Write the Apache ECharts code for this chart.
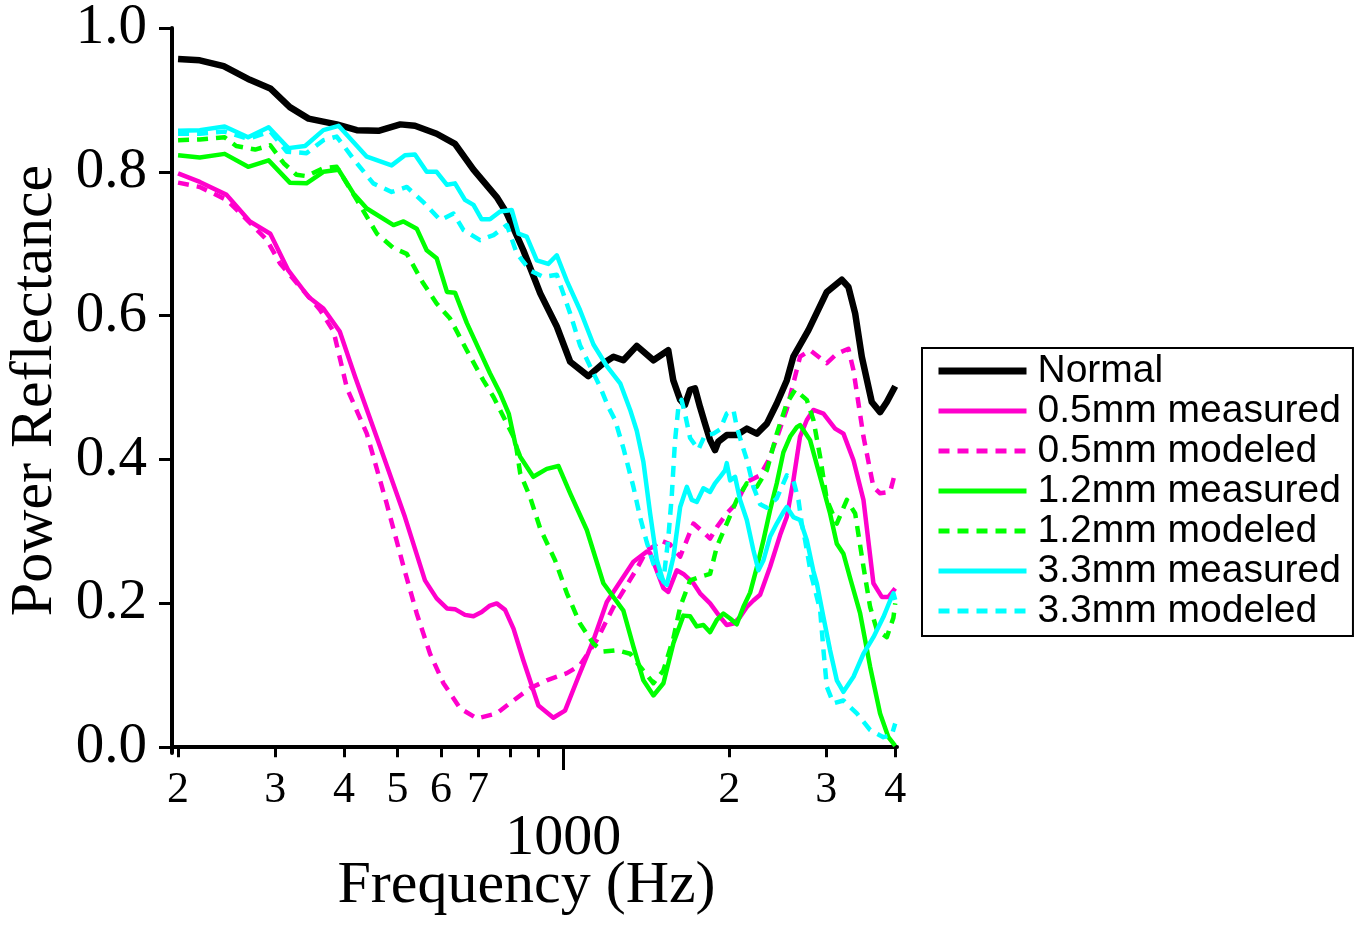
<!DOCTYPE html>
<html>
<head>
<meta charset="utf-8">
<script src="https://cdn.jsdelivr.net/npm/echarts@6/dist/echarts.min.js"></script>
<style>
html,body{margin:0;padding:0;background:#ffffff;}
#chart{width:1362px;height:925px;}
</style>
</head>
<body>
<div id="chart"></div>
<script>
// ---- axis ticks / labels ----
const xTickValues = [200, 300, 400, 500, 600, 700, 800, 900, 1000, 2000, 3000, 4000];
const xLabelValues = [200, 300, 400, 500, 600, 700, 2000, 3000, 4000];
const xMajorValues = [1000];
const yTickValues = [0, 0.2, 0.4, 0.6, 0.8, 1.0];

// ---- series names ----
const seriesNames = ['Normal', '0.5mm measured', '0.5mm modeled', '1.2mm measured', '1.2mm modeled', '3.3mm measured', '3.3mm modeled'];

// ---- data: [frequency Hz, power reflectance] ----
const normal = [[200,0.957],[219,0.955],[242,0.947],[270,0.928],[294,0.916],[319,0.890],[345,0.874],[388,0.866],[422,0.858],[462,0.857],[506,0.866],[538,0.864],[589,0.853],[636,0.839],[687,0.803],[757,0.765],[790,0.742],[846,0.691],[908,0.631],[973,0.585],[1029,0.536],[1110,0.516],[1182,0.534],[1233,0.543],[1285,0.538],[1359,0.558],[1457,0.538],[1550,0.552],[1583,0.510],[1629,0.483],[1662,0.476],[1698,0.497],[1733,0.499],[1770,0.473],[1807,0.450],[1846,0.427],[1884,0.413],[1911,0.425],[1979,0.434],[2064,0.434],[2152,0.443],[2244,0.436],[2340,0.450],[2439,0.478],[2543,0.510],[2614,0.543],[2784,0.580],[3006,0.633],[3200,0.650],[3290,0.640],[3384,0.603],[3479,0.543],[3627,0.480],[3755,0.466],[3862,0.480],[4000,0.502]];

const mm05Measured = [[200,0.798],[219,0.786],[245,0.768],[270,0.731],[294,0.714],[317,0.663],[345,0.626],[367,0.610],[393,0.578],[419,0.515],[465,0.418],[516,0.320],[561,0.232],[589,0.207],[615,0.193],[636,0.192],[663,0.184],[687,0.182],[711,0.188],[736,0.197],[757,0.200],[784,0.191],[812,0.165],[846,0.121],[901,0.058],[959,0.041],[1007,0.051],[1065,0.098],[1134,0.149],[1199,0.202],[1268,0.230],[1340,0.258],[1417,0.272],[1437,0.270],[1478,0.245],[1519,0.221],[1550,0.216],[1606,0.246],[1651,0.241],[1722,0.228],[1770,0.214],[1846,0.200],[1925,0.181],[1979,0.170],[2035,0.172],[2092,0.181],[2152,0.195],[2212,0.204],[2275,0.212],[2372,0.251],[2473,0.295],[2543,0.320],[2614,0.371],[2688,0.432],[2765,0.455],[2842,0.469],[2964,0.464],[3112,0.443],[3222,0.436],[3360,0.399],[3503,0.344],[3652,0.228],[3782,0.209],[3888,0.209],[4000,0.221]];

const mm05Modeled = [[200,0.785],[219,0.779],[245,0.761],[267,0.733],[290,0.705],[306,0.673],[333,0.640],[362,0.608],[383,0.578],[405,0.499],[440,0.436],[478,0.339],[513,0.251],[542,0.186],[573,0.130],[606,0.089],[650,0.054],[697,0.040],[757,0.047],[812,0.065],[870,0.082],[933,0.093],[1015,0.103],[1072,0.114],[1150,0.149],[1233,0.195],[1359,0.248],[1417,0.274],[1457,0.279],[1498,0.288],[1562,0.282],[1629,0.265],[1675,0.288],[1722,0.311],[1795,0.299],[1846,0.290],[1899,0.306],[1979,0.325],[2064,0.340],[2152,0.369],[2275,0.378],[2352,0.398],[2439,0.430],[2543,0.470],[2614,0.506],[2688,0.543],[2803,0.552],[3006,0.534],[3134,0.547],[3290,0.554],[3360,0.524],[3503,0.432],[3652,0.362],[3755,0.353],[3916,0.355],[4000,0.382]];

const mm12Measured = [[200,0.823],[219,0.820],[243,0.825],[268,0.807],[292,0.816],[319,0.785],[342,0.784],[367,0.800],[391,0.803],[416,0.770],[440,0.749],[492,0.726],[513,0.731],[542,0.721],[565,0.691],[589,0.680],[615,0.633],[636,0.632],[668,0.590],[706,0.550],[736,0.520],[768,0.492],[796,0.464],[818,0.422],[835,0.404],[882,0.376],[933,0.387],[980,0.391],[1029,0.353],[1103,0.302],[1182,0.228],[1285,0.190],[1340,0.140],[1397,0.093],[1457,0.072],[1519,0.089],[1584,0.145],[1651,0.183],[1698,0.182],[1746,0.168],[1795,0.170],[1846,0.160],[1899,0.177],[1951,0.186],[2007,0.179],[2064,0.171],[2121,0.195],[2182,0.215],[2244,0.250],[2307,0.288],[2372,0.330],[2439,0.367],[2507,0.410],[2579,0.432],[2652,0.445],[2688,0.448],[2803,0.427],[2923,0.376],[3047,0.325],[3134,0.283],[3222,0.269],[3314,0.235],[3455,0.186],[3602,0.112],[3755,0.047],[3888,0.014],[4000,0.002]];

const mm12Modeled = [[200,0.844],[219,0.845],[243,0.848],[255,0.836],[276,0.831],[294,0.837],[311,0.812],[328,0.796],[342,0.794],[367,0.805],[388,0.807],[422,0.761],[459,0.714],[492,0.694],[520,0.686],[557,0.645],[589,0.617],[623,0.596],[668,0.552],[716,0.510],[747,0.487],[818,0.427],[835,0.381],[870,0.348],[908,0.304],[966,0.260],[1015,0.214],[1072,0.172],[1134,0.144],[1182,0.133],[1250,0.135],[1322,0.130],[1378,0.112],[1457,0.089],[1519,0.107],[1584,0.152],[1629,0.195],[1698,0.232],[1770,0.237],[1846,0.241],[1899,0.279],[1979,0.311],[2064,0.344],[2152,0.367],[2244,0.362],[2340,0.385],[2439,0.436],[2543,0.478],[2633,0.497],[2765,0.483],[2842,0.455],[2923,0.404],[3006,0.344],[3134,0.311],[3268,0.344],[3384,0.325],[3503,0.251],[3602,0.195],[3705,0.163],[3862,0.153],[3970,0.180],[4000,0.200]];

const mm33Measured = [[200,0.857],[219,0.858],[243,0.863],[268,0.848],[292,0.862],[317,0.833],[340,0.836],[367,0.858],[391,0.864],[440,0.821],[488,0.809],[516,0.823],[538,0.824],[565,0.800],[589,0.800],[615,0.782],[636,0.784],[663,0.761],[687,0.754],[711,0.734],[736,0.734],[768,0.745],[806,0.747],[829,0.714],[858,0.710],[895,0.677],[939,0.672],[973,0.684],[1015,0.648],[1072,0.608],[1134,0.560],[1199,0.530],[1268,0.506],[1322,0.469],[1359,0.440],[1397,0.397],[1437,0.325],[1478,0.260],[1519,0.230],[1541,0.226],[1584,0.265],[1629,0.334],[1675,0.362],[1710,0.344],[1746,0.341],[1795,0.360],[1846,0.355],[1884,0.367],[1925,0.376],[1965,0.385],[1979,0.395],[2007,0.371],[2049,0.376],[2092,0.344],[2152,0.316],[2212,0.274],[2259,0.246],[2307,0.260],[2372,0.293],[2439,0.311],[2507,0.327],[2543,0.334],[2614,0.320],[2688,0.316],[2765,0.288],[2842,0.245],[2883,0.228],[2964,0.181],[3047,0.135],[3134,0.093],[3222,0.077],[3360,0.098],[3503,0.130],[3652,0.153],[3807,0.181],[3916,0.204],[3970,0.214],[4000,0.205]];

const mm33Modeled = [[200,0.853],[219,0.853],[243,0.856],[268,0.846],[294,0.856],[315,0.828],[342,0.826],[367,0.844],[388,0.849],[422,0.812],[452,0.784],[488,0.772],[520,0.779],[557,0.758],[598,0.733],[632,0.742],[659,0.719],[706,0.705],[747,0.712],[790,0.726],[823,0.687],[870,0.663],[920,0.654],[973,0.657],[1029,0.603],[1072,0.559],[1126,0.525],[1166,0.501],[1207,0.473],[1241,0.455],[1285,0.416],[1340,0.362],[1378,0.320],[1417,0.285],[1457,0.255],[1498,0.236],[1519,0.232],[1550,0.290],[1573,0.350],[1594,0.425],[1617,0.473],[1638,0.483],[1662,0.464],[1698,0.430],[1758,0.414],[1807,0.434],[1872,0.436],[1925,0.442],[1979,0.464],[2035,0.469],[2064,0.445],[2107,0.422],[2152,0.400],[2212,0.362],[2275,0.338],[2340,0.333],[2439,0.346],[2543,0.378],[2614,0.371],[2670,0.344],[2707,0.311],[2745,0.288],[2815,0.240],[2923,0.191],[2964,0.135],[3006,0.084],[3090,0.061],[3222,0.065],[3408,0.047],[3602,0.024],[3807,0.014],[3943,0.017],[4000,0.033]];

const seriesData = [normal, mm05Measured, mm05Modeled, mm12Measured, mm12Modeled, mm33Measured, mm33Modeled];
const seriesColors = ['#000000', '#ff00cc', '#ff00cc', '#00ff00', '#00ff00', '#00ffff', '#00ffff'];
const seriesWidths = [6.5, 4.5, 4.5, 4.5, 4.5, 4.5, 4.5];
const seriesDashed = [false, false, true, false, true, false, true];

const SERIF = '"Liberation Serif", "Times New Roman", Times, serif';
const SANS = '"Liberation Sans", Arial, Helvetica, sans-serif';
const DASH = [11, 8];

function tickLabel(v) {
  if (v >= 1000) return String(Math.round(v / 1000));
  return String(Math.round(v / 100));
}

const chart = echarts.init(document.getElementById('chart'), null, { renderer: 'canvas' });

const option = {
  animation: false,
  backgroundColor: '#ffffff',
  grid: {
    left: 172, right: 465, top: 28, bottom: 172,
    containLabel: false,
    outerBoundsMode: 'none'
  },
  xAxis: [
    {
      type: 'log', logBase: 10, min: 195, max: 4030,
      position: 'bottom',
      axisLine: { show: true, lineStyle: { color: '#000', width: 4 } },
      axisTick: { show: true, inside: false, length: 10, customValues: xTickValues, lineStyle: { color: '#000', width: 3 } },
      axisLabel: {
        show: true, customValues: xLabelValues, formatter: tickLabel,
        fontFamily: SERIF, fontSize: 44, color: '#000', margin: 15
      },
      splitLine: { show: false },
      minorTick: { show: false },
      name: 'Frequency (Hz)',
      nameLocation: 'middle',
      nameGap: 103,
      nameTextStyle: { fontFamily: SERIF, fontSize: 60, color: '#000', padding: [0, 16, 0, 0] }
    },
    {
      type: 'log', logBase: 10, min: 195, max: 4030,
      position: 'bottom',
      axisLine: { show: false },
      axisTick: { show: true, inside: false, length: 17, customValues: xMajorValues, lineStyle: { color: '#000', width: 3 } },
      axisLabel: {
        show: true, customValues: xMajorValues, formatter: function (v) { return String(Math.round(v)); },
        fontFamily: SERIF, fontSize: 58, color: '#000', margin: 57
      },
      splitLine: { show: false }
    }
  ],
  yAxis: {
    type: 'value', min: -0.008, max: 1.0,
    axisLine: { show: true, lineStyle: { color: '#000', width: 4 } },
    axisTick: { show: true, inside: false, length: 13, customValues: yTickValues, lineStyle: { color: '#000', width: 3 } },
    axisLabel: {
      show: true, customValues: yTickValues,
      formatter: function (v) { return Number(v).toFixed(1); },
      fontFamily: SERIF, fontSize: 57, color: '#000', margin: 25,
      padding: [0, 0, 8, 0]
    },
    splitLine: { show: false },
    name: 'Power Reflectance',
    nameLocation: 'middle',
    nameGap: 107,
    nameTextStyle: { fontFamily: SERIF, fontSize: 60, color: '#000' }
  },
  legend: {
    show: true,
    orient: 'vertical',
    left: 922, top: 348,
    padding: [3, 12, 5, 13],
    backgroundColor: '#ffffff',
    borderColor: '#000000', borderWidth: 2, borderRadius: 0,
    itemWidth: 88, itemHeight: 14, itemGap: 0,
    itemStyle: { opacity: 0 },
    textStyle: { fontFamily: SANS, fontSize: 39, color: '#000', lineHeight: 40, padding: [0, 0, 0, 6] },
    selectedMode: false,
    data: seriesNames.map(function (n, i) {
      return {
        name: n,
        itemStyle: { opacity: 0 },
        lineStyle: { width: seriesWidths[i] + 0.5, color: seriesColors[i], type: seriesDashed[i] ? DASH : 'solid' }
      };
    })
  },
  series: seriesNames.map(function (n, i) {
    return {
      name: n,
      type: 'line',
      xAxisIndex: 0,
      yAxisIndex: 0,
      data: seriesData[i],
      showSymbol: false,
      symbol: 'none',
      smooth: false,
      clip: true,
      color: seriesColors[i],
      lineStyle: { color: seriesColors[i], width: seriesWidths[i], type: seriesDashed[i] ? DASH : 'solid', cap: 'butt', join: 'round' },
      emphasis: { disabled: true },
      z: 2 + i
    };
  })
};

chart.setOption(option);
</script>
</body>
</html>
